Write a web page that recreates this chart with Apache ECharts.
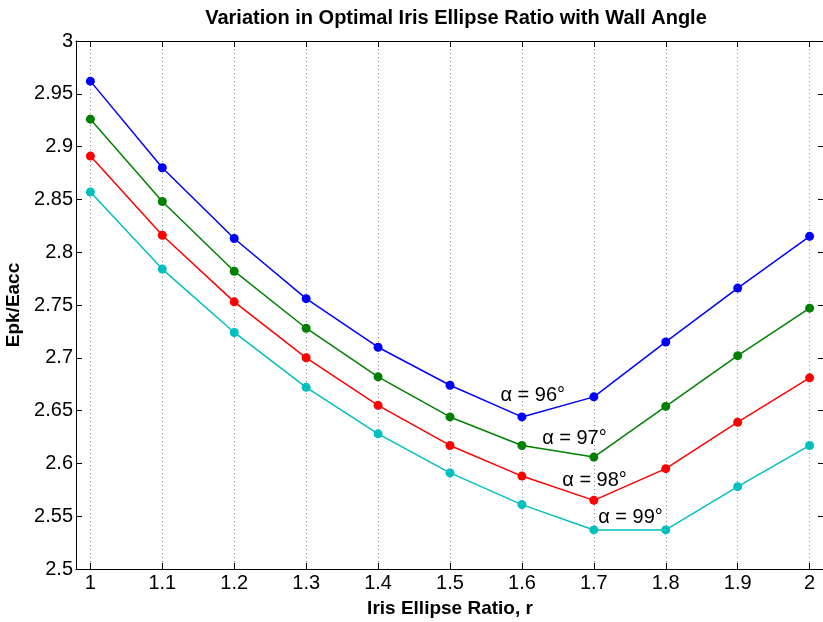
<!DOCTYPE html>
<html>
<head>
<meta charset="utf-8">
<script src="https://cdn.jsdelivr.net/npm/echarts@6/dist/echarts.min.js"></script>
<style>html,body{margin:0;padding:0;background:#fff}#c{width:823px;height:622px}</style>
</head>
<body>
<div id="c"></div>
<script>
var ratios = [1.0, 1.1, 1.2, 1.3, 1.4, 1.5, 1.6, 1.7, 1.8, 1.9, 2.0];
var alpha96 = [2.962, 2.880, 2.813, 2.756, 2.710, 2.674, 2.644, 2.663, 2.715, 2.766, 2.815];
var alpha97 = [2.926, 2.848, 2.782, 2.728, 2.682, 2.644, 2.617, 2.606, 2.654, 2.702, 2.747];
var alpha98 = [2.891, 2.816, 2.753, 2.700, 2.655, 2.617, 2.588, 2.565, 2.595, 2.639, 2.681];
var alpha99 = [2.857, 2.784, 2.724, 2.672, 2.628, 2.591, 2.561, 2.537, 2.537, 2.578, 2.617];
var xTicks = [1, 1.1, 1.2, 1.3, 1.4, 1.5, 1.6, 1.7, 1.8, 1.9, 2];
var annotations = [
  {text: 'α = 96°', x: 1.615, y: 2.664},
  {text: 'α = 97°', x: 1.673, y: 2.624},
  {text: 'α = 98°', x: 1.701, y: 2.584},
  {text: 'α = 99°', x: 1.751, y: 2.549}
];
var colors = ['#0000ff', '#008000', '#ff0000', '#00bfbf'];
var seriesData = [alpha96, alpha97, alpha98, alpha99];

var FONT = 'Liberation Sans';
var axisLineStyle = {color: '#000', width: 1};

function mkSeries(vals, i) {
  return {
    type: 'line',
    data: ratios.map(function (r, k) { return [r, vals[k]]; }),
    symbol: 'circle',
    symbolSize: 9,
    showSymbol: true,
    lineStyle: {color: colors[i], width: 1.5},
    itemStyle: {color: colors[i]},
    animation: false,
    z: 3,
    markPoint: {
      symbol: 'circle', symbolSize: 0,
      label: {show: true, formatter: annotations[i].text, color: '#000', fontSize: 20, fontFamily: FONT, position: 'inside'},
      data: [{coord: [annotations[i].x, annotations[i].y]}]
    }
  };
}

var chart = echarts.init(document.getElementById('c'), null, {renderer: 'canvas'});
chart.setOption({
  animation: false,
  backgroundColor: '#fff',
  title: {
    text: 'Variation in Optimal Iris Ellipse Ratio with Wall Angle',
    left: 451, top: 3, textAlign: 'center',
    textStyle: {fontFamily: FONT, fontWeight: 'bold', fontSize: 20, color: '#000'}
  },
  grid: {left: 76, top: 41, width: 748, bottom: 53, containLabel: false, outerBoundsMode: 'none'},
  xAxis: [{
    type: 'value', min: 0.98, max: 2.02, position: 'bottom',
    name: 'Iris Ellipse Ratio, r', nameLocation: 'middle', nameGap: 30,
    nameTextStyle: {fontFamily: FONT, fontWeight: 'bold', fontSize: 19, color: '#000'},
    axisLine: {show: true, onZero: false, lineStyle: axisLineStyle},
    axisTick: {show: true, inside: true, length: 6, customValues: xTicks, lineStyle: {color: '#000'}},
    axisLabel: {show: true, customValues: xTicks, margin: 4, fontSize: 20, fontFamily: FONT, color: '#000',
      formatter: function (v) { return String(+v.toFixed(2)); }},
    splitLine: {show: true, lineStyle: {color: '#888', type: [1, 3], width: 1}}
  }, {
    type: 'value', min: 0.98, max: 2.02, position: 'top',
    axisLine: {show: true, onZero: false, lineStyle: axisLineStyle},
    axisTick: {show: true, inside: true, length: 6, customValues: xTicks, lineStyle: {color: '#000'}},
    axisLabel: {show: false},
    splitLine: {show: false}
  }],
  yAxis: [{
    type: 'value', min: 2.5, max: 3, interval: 0.05, position: 'left',
    name: 'Epk/Eacc', nameLocation: 'middle', nameGap: 52,
    nameTextStyle: {fontFamily: FONT, fontWeight: 'bold', fontSize: 19, color: '#000'},
    axisLine: {show: true, onZero: false, lineStyle: axisLineStyle},
    axisTick: {show: true, inside: true, length: 6, lineStyle: {color: '#000'}},
    axisLabel: {show: true, margin: 3, fontSize: 20, fontFamily: FONT, color: '#000',
      formatter: function (v) { return String(+v.toFixed(2)); }},
    splitLine: {show: false}
  }, {
    type: 'value', min: 2.5, max: 3, interval: 0.05, position: 'right',
    axisLine: {show: false, onZero: false, lineStyle: axisLineStyle},
    axisTick: {show: true, inside: true, length: 6, lineStyle: {color: '#000'}},
    axisLabel: {show: false},
    splitLine: {show: false}
  }],
  series: seriesData.map(mkSeries)
});
</script>
</body>
</html>
